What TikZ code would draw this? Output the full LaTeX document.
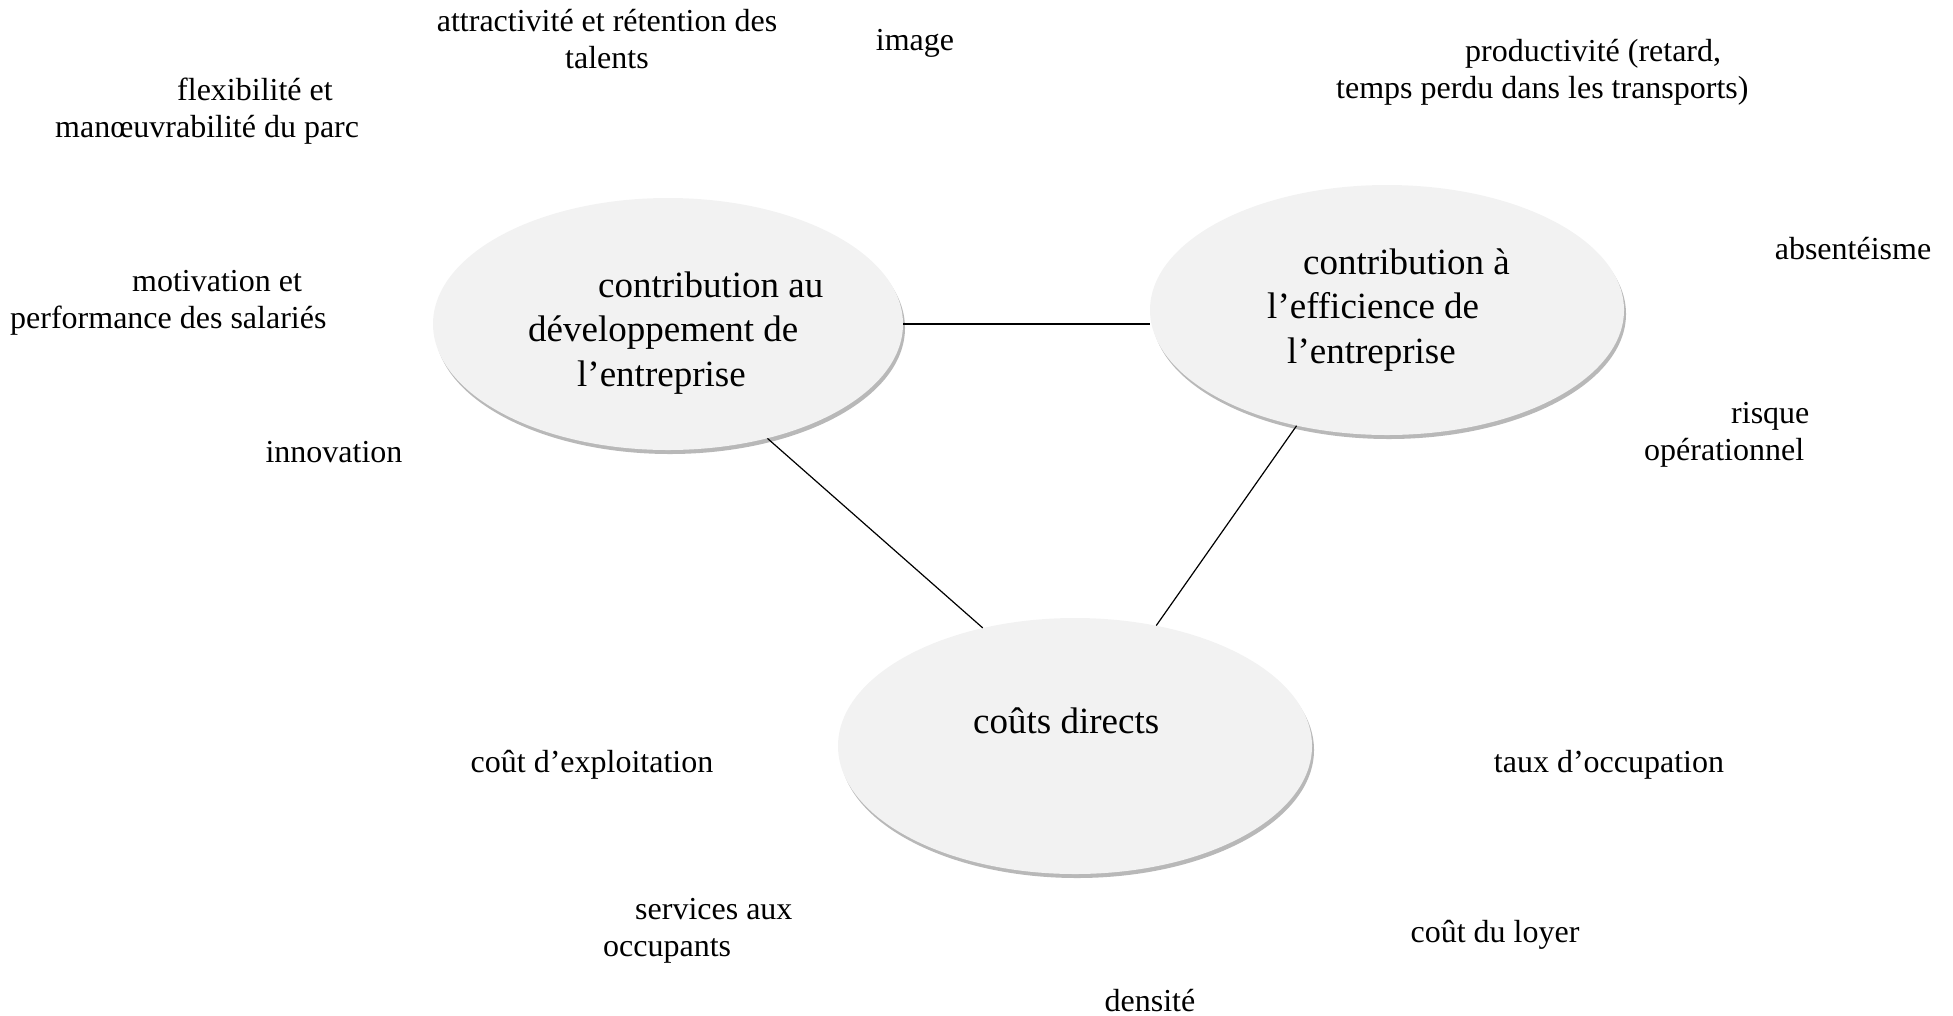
\documentclass[tikz,border=0pt]{standalone}
\usepackage{fontspec}
\setmainfont{Liberation Serif}
\usetikzlibrary{shapes.geometric,shadows}
\definecolor{bubblegray}{HTML}{F2F2F2}
\begin{document}
\begin{tikzpicture}[x=1pt,y=-1pt,
  bubble/.style={ellipse, fill=bubblegray, draw=none, inner sep=0pt,
    drop shadow={shadow xshift=2pt, shadow yshift=-4pt, fill=black, opacity=0.28}},
  bubbletext/.style={font=\fontsize{37}{44.5}\selectfont, inner sep=0pt, align=left, anchor=base west},
  lbl/.style={font=\fontsize{32}{37.4}\selectfont, inner sep=0pt, align=left, anchor=base west},
  clbl/.style={font=\fontsize{32}{37.4}\selectfont, inner sep=0pt, align=center, anchor=base},
  link/.style={draw=black, line width=1.2pt}]
\useasboundingbox (0,0) rectangle (1953,1015);

\node[bubble, minimum width=470pt, minimum height=252pt] (e1) at (668,324) {};
\node[bubble, minimum width=474pt, minimum height=250pt] (e2) at (1387,310) {};
\node[bubble, minimum width=474pt, minimum height=256pt] (e3) at (1075,746) {};

\node[bubbletext] (t1) at (528,386) {\hspace*{70pt}contribution au\\développement de\\\hspace*{49pt}l’entreprise};
\node[bubbletext] (t2) at (1267,363) {\hspace*{36pt}contribution à\\l’efficience de\\\hspace*{20pt}l’entreprise};
\node[bubbletext] (t3) at (973,733) {coûts directs};

\draw[link] (e1.east) -- (e1.east -| e2.west);
\draw[link] (e1.-49) -- (e3.128);
\draw[link] (e2.-128) -- (e3.56);

\node[clbl] (l1) at (607,68.4) {attractivité et rétention des\\talents};
\node[clbl] (l2) at (915,50) {image};
\node[lbl] (l3) at (1336,98.4) {\hspace*{129pt}productivité (retard,\\temps perdu dans les transports)};
\node[lbl] (l4) at (55,137.4) {\hspace*{122pt}flexibilité et\\manœuvrabilité du parc};
\node[clbl] (l5) at (1853,259) {absentéisme};
\node[lbl] (l6) at (10,328.4) {\hspace*{122pt}motivation et\\performance des salariés};
\node[clbl] (l7) at (334,462) {innovation};
\node[lbl] (l8) at (1644,460.4) {\hspace*{87pt}risque\\opérationnel};
\node[clbl] (l9) at (592,772) {coût d’exploitation};
\node[clbl] (l10) at (1609,772) {taux d’occupation};
\node[lbl] (l11) at (603,956.4) {\hspace*{32pt}services aux\\occupants};
\node[clbl] (l12) at (1495,942) {coût du loyer};
\node[clbl] (l13) at (1150,1011) {densité};
\end{tikzpicture}
\end{document}
